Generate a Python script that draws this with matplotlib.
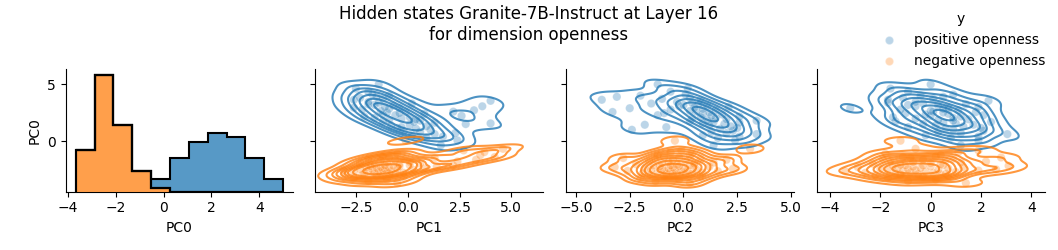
import numpy as np
import pandas as pd
import seaborn as sns
import matplotlib
matplotlib.use("Agg")
from matplotlib import pyplot as plt
from matplotlib.lines import Line2D

# classes (hue order)
classes = ["positive openness", "negative openness"]
colors = ["#1f77b4", "#ff7f0e"]

# positive openness samples
pos_pc0 = [-0.35, 0.08,
           0.30, 0.41, 0.52, 0.63, 0.72, 0.83, 0.92, 1.01,
           1.10, 1.17, 1.24, 1.31, 1.38, 1.45, 1.51, 1.57, 1.63, 1.69, 1.75, 1.81,
           1.87, 1.93, 1.99, 2.05, 2.11, 2.17, 2.23, 2.29, 2.35, 2.41, 2.47, 2.52, 2.57, 2.60,
           2.66, 2.72, 2.78, 2.84, 2.90, 2.95, 3.01, 3.07, 3.13, 3.19, 3.25, 3.31, 3.38,
           3.45, 3.55, 3.64, 3.72, 3.81, 3.90, 4.00, 4.10,
           4.35, 4.62, 4.99]
pos_pc1 = [1.6, 2.4,
           0.9, 1.7, 0.2, 1.3, 2.3, 0.6, -0.2, 1.1,
           0.4, -0.5, -0.3, 0.9, -0.8, 0.1, 2.8, 4.0, 1.3, 0.3, -1.2, 0.6,
           -0.9, 0.4, -0.3, -1.6, 0.1, -2.1, 2.6, -0.6, -1.2, 0.8, -0.4, -1.0, -0.1, 2.2,
           -1.3, 3.2, -2.2, -0.9, -0.4, -2.6, -1.1, 3.6, -0.7, -1.6, -1.9, 0.2, -1.4,
           -1.9, 4.0, -2.6, -1.2, -2.3, -1.5, -0.9, -1.7,
           -1.9, -2.5, -1.4]
pos_pc2 = [1.4, 2.4,
           1.6, 2.6, 0.9, 3.4, 2.0, 1.3, 2.3, -2.4,
           1.7, 2.5, -0.8, 2.2, 1.2, -1.8, 1.9, 0.9, 2.6, 1.4, 0.3, 3.4,
           1.1, 2.0, 0.4, 1.5, 0.8, 2.6, 1.3, -1.2, 1.8, 0.9, -0.9, 1.2, -3.3, 0.6,
           0.3, 1.5, -0.6, 0.9, -2.5, 0.5, 2.1, -0.2, 1.1, 0.0, 0.7, -1.5, 0.4,
           -0.3, 0.8, -3.8, -1.0, 0.3, -3.1, -2.0, 0.1,
           -0.6, 0.2, -1.2]
pos_pc3 = [1.2, 1.9,
           0.8, 1.9, -0.2, 3.05, 1.2, 0.3, 2.1, 0.9,
           0.6, 2.0, -0.9, 1.3, 0.2, 1.7, -0.3, 1.0, 0.5, 2.4, -1.4, 0.9,
           0.3, 1.5, -0.6, 0.9, -1.5, 1.2, 0.0, 2.1, -0.2, 0.7, -1.0, 0.5, 1.8, 0.1,
           0.0, 1.1, -1.2, 0.5, -3.2, 0.7, 1.9, -0.6, 0.3, -0.9, 1.4, -0.3, -1.7,
           -0.6, 2.3, -1.7, 0.1, -1.1, 0.5, -0.4, 0.9,
           -0.9, -1.6, 0.0]

# negative openness samples
neg_pc0 = [-3.66, -3.48, -3.35, -3.22, -3.12, -3.04, -2.97, -2.93, -2.90,
           -2.88, -2.85, -2.81, -2.78, -2.76, -2.72, -2.69, -2.66, -2.63, -2.60,
           -2.57, -2.55, -2.52, -2.49, -2.46, -2.44, -2.41, -2.38, -2.35, -2.32,
           -2.29, -2.26, -2.23, -2.20, -2.18, -2.15, -2.13, -2.11, -2.10,
           -2.07, -2.02, -1.97, -1.92, -1.87, -1.82, -1.77, -1.72, -1.67, -1.62,
           -1.57, -1.52, -1.47, -1.42, -1.38, -1.34,
           -1.22, -1.10, -0.95, -0.80, -0.66,
           0.05]
neg_pc1 = [-0.5, -1.9, -1.0, -2.6, -0.2, -1.5, -2.2, -3.0, -0.9,
           -1.3, -2.1, -0.6, -1.6, -0.2, -1.0, -2.6, -1.4, -0.8, -1.9,
           -3.1, -1.2, 0.3, -1.7, -0.5, -2.3, -1.1, 0.8, -1.5, -0.9,
           -2.0, -1.3, 1.4, -0.4, -1.8, -0.7, 2.2, -1.1, 0.1,
           -1.6, -0.4, 0.6, -2.3, -1.0, 0.1, 2.4, -1.3, -0.6, 3.3,
           -1.9, -0.2, 1.3, -0.9, 4.2, -1.2,
           3.5, -0.5, 3.7, 2.7, 4.6,
           -0.1]
neg_pc2 = [0.3, -1.3, -0.2, -2.0, 0.8, -0.9, 0.1, -1.6, -0.5,
           -0.8, 0.4, -1.9, -0.3, 0.9, -1.2, -0.6, -0.1, 1.6, -2.6,
           -0.9, 0.2, -1.5, -0.4, 0.6, -1.0, 2.3, -0.7, -1.8, 0.0,
           -0.5, -3.2, 1.2, -1.1, -0.2, 0.5, -1.4, -0.6, 0.3,
           -0.3, -2.2, 0.5, -1.0, 1.4, -0.7, -1.6, 0.1, -0.5, 2.0,
           -1.3, 0.8, -2.8, -0.2, -0.9, 0.3,
           -1.2, 0.4, -0.6, -0.1, 3.1,
           -0.4]
neg_pc3 = [1.4, -0.9, 0.2, -1.7, -0.3, 0.7, -2.2, -1.2, 0.4,
           -0.5, 0.6, -1.4, 0.1, -2.6, -0.8, 1.0, -0.2, -3.4, -1.1,
           1.9, -0.6, 0.3, -1.7, 2.6, -0.9, -2.0, 0.7, -0.4, -1.3,
           1.3, -2.9, -0.7, 0.0, -1.5, 3.1, -0.3, -1.0, 0.5,
           -1.2, 0.4, -2.3, 0.0, 1.2, -0.7, 2.2, -1.6, 0.6, -0.3,
           -1.9, 0.9, -0.8, 2.8, -1.1, 0.2,
           0.4, -1.8, 1.1, 1.9, -0.6,
           -1.2]

x_vars = ["PC0", "PC1", "PC2", "PC3"]

df = pd.DataFrame({
    "PC0": pos_pc0 + neg_pc0,
    "PC1": pos_pc1 + neg_pc1,
    "PC2": pos_pc2 + neg_pc2,
    "PC3": pos_pc3 + neg_pc3,
    "y": [classes[0]] * len(pos_pc0) + [classes[1]] * len(neg_pc0),
})

fig = plt.figure(figsize=(10.58, 2.5), dpi=100)

lefts = [65.7, 315.3, 566.3, 817.3]
xlims = [(-4.08, 5.41), (-4.46, 6.52), (-5.45, 5.13), (-4.51, 4.54)]
axes = []
for i, var in enumerate(x_vars):
    ax = fig.add_axes([lefts[i] / 1058, 0.2332, 227.5 / 1058, 0.4908])
    axes.append(ax)
    ax.spines["top"].set_visible(False)
    ax.spines["right"].set_visible(False)
    if i == 0:
        # diagonal: stacked step histogram on a hidden twin axis
        dax = ax.twinx()
        dax.set_axis_off()
        edges = np.histogram_bin_edges(df["PC0"], bins=11)
        neg_counts, _ = np.histogram(neg_pc0, bins=edges)
        pos_counts, _ = np.histogram(pos_pc0, bins=edges)
        dax.stairs(neg_counts, edges, baseline=0, fill=True,
                   facecolor=(1.0, 0.498, 0.055, 0.75), edgecolor="black", lw=1.5)
        dax.stairs(neg_counts + pos_counts, edges, baseline=neg_counts, fill=True,
                   facecolor=(0.122, 0.467, 0.706, 0.75), edgecolor="black", lw=1.5)
        dax.stairs(neg_counts, edges, baseline=0, fill=False,
                   edgecolor="black", lw=1.5)
        dax.set_ylim(0, (neg_counts + pos_counts).max() * 1.05)
        ax.set_ylabel("PC0")
    else:
        sns.scatterplot(data=df, x=var, y="PC0", hue="y", hue_order=classes,
                        palette=colors, alpha=0.3, ax=ax, legend=False)
        sns.kdeplot(data=df, x=var, y="PC0", hue="y", hue_order=classes,
                    palette=colors, alpha=0.8, bw_adjust=0.85, ax=ax, legend=False)
        ax.tick_params(labelleft=False)
        ax.set_ylabel("")
    ax.set_xlim(*xlims[i])
    ax.set_ylim(-4.42, 6.34)
    ax.set_yticks([0, 5])
    ax.set_xlabel(var)

handles = [Line2D([], [], marker="o", linestyle="", color=c, alpha=0.3,
                  markersize=6, markeredgecolor="white") for c in colors]
fig.legend(handles, classes, title="y", loc="upper right", frameon=False)

fig.suptitle("Hidden states Granite-7B-Instruct at Layer 16\nfor dimension openness")

fig.savefig("out.png", dpi=100)
